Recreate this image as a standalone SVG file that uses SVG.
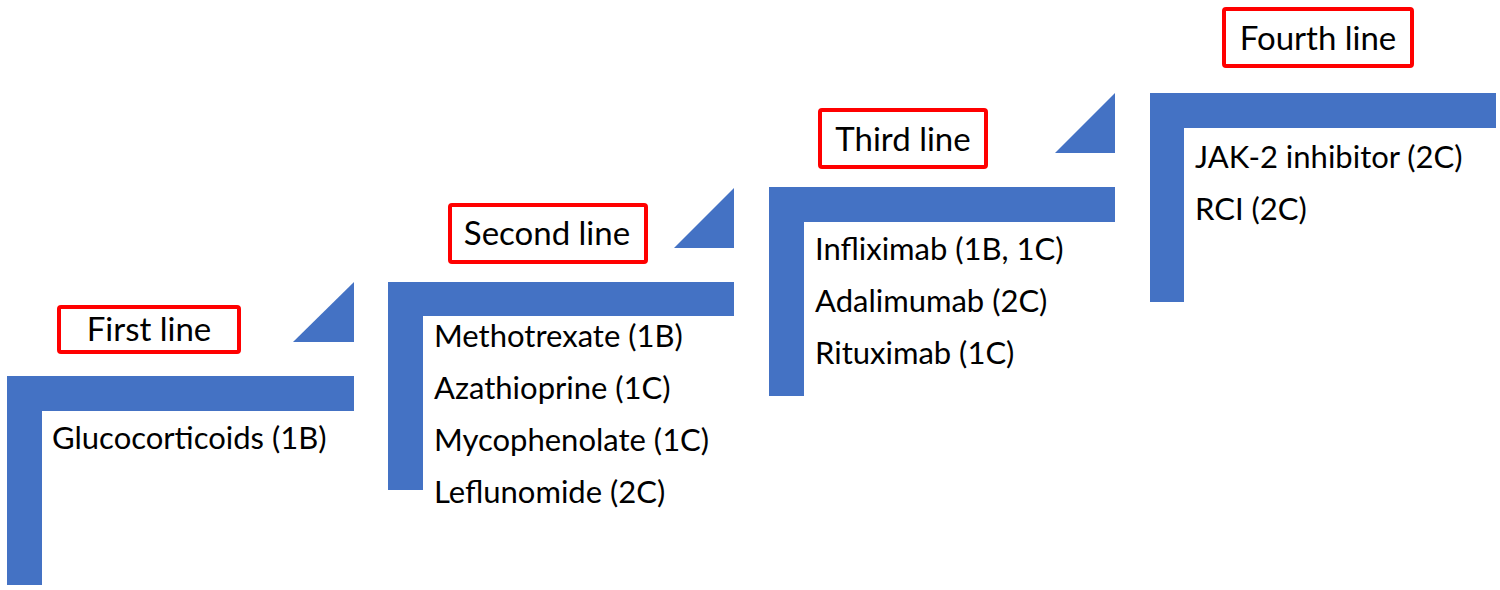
<svg xmlns="http://www.w3.org/2000/svg" width="1500" height="590" viewBox="0 0 1500 590">
<style>
.bar{fill:#4472C4}
.tri{fill:#4472C4}
.box{fill:#FFFFFF;stroke:#FF0000;stroke-width:4}
.lbl{font-family:Lato,"Open Sans",sans-serif;font-size:33px;fill:#000;text-anchor:middle}
.item{font-family:Lato,"Open Sans",sans-serif;font-size:31px;fill:#000}
</style>
<rect width="1500" height="590" fill="#FFFFFF"/>
<g id="step1">
<path class="bar" d="M7,376 H354 V411 H42 V585 H7 Z"/>
<rect class="box" x="59" y="307" width="180" height="45" rx="2"/>
<text class="lbl" x="149" y="341">First line</text>
<text class="item" x="52" y="449">Glucocorticoids (1B)</text>
</g>
<g id="step2">
<path class="bar" d="M388,282 H734 V316 H423 V490 H388 Z"/>
<rect class="box" x="450" y="205" width="196" height="57" rx="2"/>
<text class="lbl" x="547" y="245">Second line</text>
<text class="item" x="434" y="347">Methotrexate (1B)</text>
<text class="item" x="434" y="399">Azathioprine (1C)</text>
<text class="item" x="434" y="451">Mycophenolate (1C)</text>
<text class="item" x="434" y="503">Leflunomide (2C)</text>
</g>
<g id="step3">
<path class="bar" d="M769,187 H1115 V222 H804 V396 H769 Z"/>
<rect class="box" x="820" y="110" width="166" height="57" rx="2"/>
<text class="lbl" x="903" y="151">Third line</text>
<text class="item" x="815" y="260">Infliximab (1B, 1C)</text>
<text class="item" x="815" y="312">Adalimumab (2C)</text>
<text class="item" x="815" y="364">Rituximab (1C)</text>
</g>
<g id="step4">
<path class="bar" d="M1150,93 H1496 V128 H1184 V302 H1150 Z"/>
<rect class="box" x="1224" y="9" width="188" height="57" rx="2"/>
<text class="lbl" x="1318" y="50">Fourth line</text>
<text class="item" x="1195" y="168">JAK-2 inhibitor (2C)</text>
<text class="item" x="1195" y="220">RCI (2C)</text>
</g>
<g id="connectors">
<polygon class="tri" points="354,282 354,342 293,342"/>
<polygon class="tri" points="734,188 734,248 674,248"/>
<polygon class="tri" points="1115,93 1115,153 1055,153"/>
</g>
</svg>
